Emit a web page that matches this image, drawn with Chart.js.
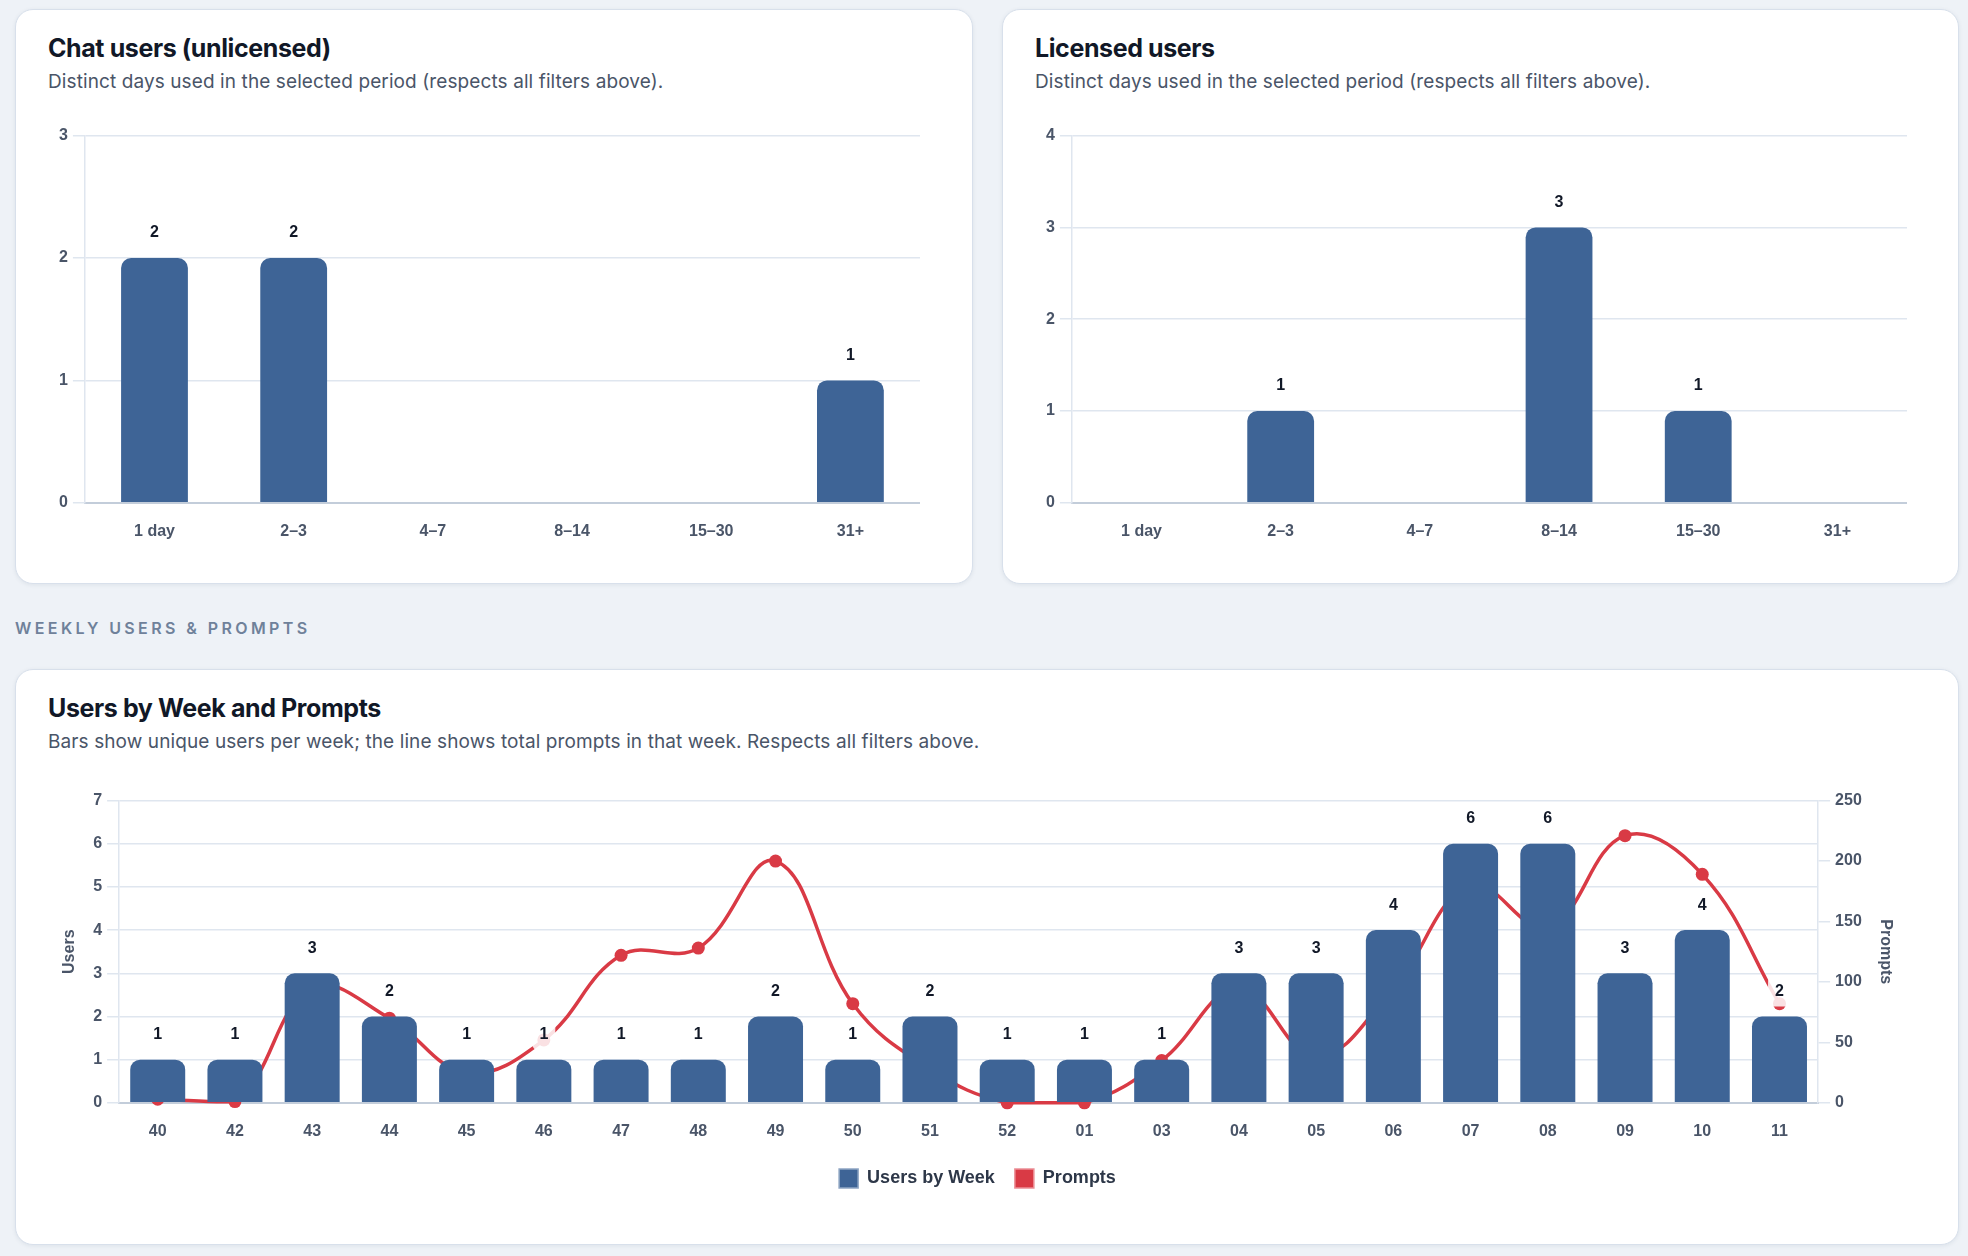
<!DOCTYPE html>
<html>
<head>
<meta charset="utf-8">
<title>Usage</title>
<script src="https://cdn.jsdelivr.net/npm/chart.js@4.4.1/dist/chart.umd.min.js"></script>
<style>
  html, body { margin: 0; padding: 0; }
  body {
    width: 1968px; height: 1256px; overflow: hidden; position: relative;
    background: #eef2f7;
    font-family: Inter, "Noto Sans", sans-serif;
  }
  .card {
    position: absolute; box-sizing: border-box;
    background: #fff; border: 1px solid #d8e0eb; border-radius: 18px;
    box-shadow: 0 1px 4px rgba(30, 50, 80, 0.08);
  }
  .card h2 {
    position: absolute; left: 32px; top: 22px; margin: 0;
    font-size: 25px; line-height: 32px; font-weight: 700; color: #111827;
    letter-spacing: -0.4px;
  }
  .card p {
    position: absolute; left: 32px; top: 59px; margin: 0;
    font-size: 19px; line-height: 26px; color: #4a5568; letter-spacing: 0.1px;
  }
  .chart-box { position: absolute; }
  .section {
    position: absolute; left: 15px; top: 618px;
    font-size: 16px; line-height: 20px; letter-spacing: 3.4px;
    font-weight: 600; color: #6f819a;
  }
</style>
</head>
<body>

<div class="card" style="left:15px; top:9px; width:958px; height:575px;">
  <h2>Chat users (unlicensed)</h2>
  <p>Distinct days used in the selected period (respects all filters above).</p>
  <div class="chart-box" style="left:32px; top:111px; width:872px; height:439px;">
    <canvas id="chatChart"></canvas>
  </div>
</div>

<div class="card" style="left:1002px; top:9px; width:957px; height:575px;">
  <h2>Licensed users</h2>
  <p>Distinct days used in the selected period (respects all filters above).</p>
  <div class="chart-box" style="left:32px; top:111px; width:872px; height:439px;">
    <canvas id="licensedChart"></canvas>
  </div>
</div>

<div class="section">WEEKLY USERS &amp; PROMPTS</div>

<div class="card" style="left:15px; top:669px; width:1944px; height:576px;">
  <h2>Users by Week and Prompts</h2>
  <p>Bars show unique users per week; the line shows total prompts in that week. Respects all filters above.</p>
  <div class="chart-box" style="left:32px; top:116px; width:1878px; height:412px;">
    <canvas id="weeklyChart"></canvas>
  </div>
</div>

<script>
  const dayBuckets = ['1 day', '2–3', '4–7', '8–14', '15–30', '31+'];
  const chatUsers = [2, 2, 0, 0, 0, 1];
  const licensedUsers = [0, 1, 0, 3, 1, 0];

  const weeks = ['40', '42', '43', '44', '45', '46', '47', '48', '49', '50', '51',
                 '52', '01', '03', '04', '05', '06', '07', '08', '09', '10', '11'];
  const usersByWeek = [1, 1, 3, 2, 1, 1, 1, 1, 2, 1, 2, 1, 1, 1, 3, 3, 4, 6, 6, 3, 4, 2];
  const promptsByWeek = [3, 1, 95, 70, 25, 52, 122, 128, 200, 82, 28, 0, 0, 35, 95, 38, 95, 180, 145, 221, 189, 82];

  const barBlue = '#3e6496';
  const lineRed = '#d93a45';
  const gridColor = '#dfe6ef';
  const axisDark = '#c3cdda';
  const tickColor = '#4a5568';

  Chart.defaults.font.family = '"Liberation Sans", Arial, Helvetica, sans-serif';

  // numbers above the bars, on a soft white chip
  const valueLabels = {
    id: 'valueLabels',
    afterDatasetsDraw(chart) {
      const ctx = chart.ctx;
      chart.data.datasets.forEach((ds, i) => {
        const meta = chart.getDatasetMeta(i);
        if (meta.type !== 'bar') return;
        meta.data.forEach((bar, j) => {
          const v = ds.data[j];
          if (!v) return;
          const text = String(v);
          ctx.save();
          ctx.font = 'bold 16px "Liberation Sans", Arial, sans-serif';
          const w = ctx.measureText(text).width;
          const x = bar.x, y = bar.y - 25;
          ctx.fillStyle = 'rgba(255,255,255,0.85)';
          ctx.beginPath();
          ctx.roundRect(x - w / 2 - 7, y - 15, w + 14, 30, 5);
          ctx.fill();
          ctx.fillStyle = '#111827';
          ctx.textAlign = 'center';
          ctx.textBaseline = 'middle';
          ctx.fillText(text, x, y);
          ctx.restore();
        });
      });
    }
  };

  function dayChart(id, values) {
    new Chart(document.getElementById(id), {
      type: 'bar',
      data: {
        labels: dayBuckets,
        datasets: [{
          label: 'Users',
          data: values,
          backgroundColor: barBlue,
          borderRadius: 10,
          borderSkipped: 'start',
          barPercentage: 0.6,
          categoryPercentage: 0.8
        }]
      },
      options: {
        responsive: true,
        maintainAspectRatio: false,
        animation: false,
        layout: { padding: { left: 6 } },
        plugins: { legend: { display: false }, tooltip: { enabled: false } },
        scales: {
          x: {
            grid: { display: false, drawTicks: false },
            border: { color: axisDark, width: 2 },
            ticks: { padding: 19, color: tickColor, font: { size: 16, weight: 'bold' } }
          },
          y: {
            min: 0,
            max: Math.max(...values) + 1,
            ticks: { stepSize: 1, padding: 5, color: tickColor, font: { size: 16, weight: 'bold' } },
            grid: { color: gridColor, lineWidth: 1.5, tickLength: 12 },
            border: { color: gridColor, width: 1.5 }
          }
        }
      },
      plugins: [valueLabels]
    });
  }

  dayChart('chatChart', chatUsers);
  dayChart('licensedChart', licensedUsers);

  // Chart: weekly users (bars) + prompts (line)
  new Chart(document.getElementById('weeklyChart'), {
    type: 'bar',
    data: {
      labels: weeks,
      datasets: [{
        label: 'Users by Week',
        data: usersByWeek,
        backgroundColor: barBlue,
        borderColor: '#8ea5c3',
        borderWidth: 0,
        borderRadius: 10,
        borderSkipped: 'start',
        barPercentage: 0.89,
        categoryPercentage: 0.8,
        yAxisID: 'y',
        order: 1
      }, {
        type: 'line',
        label: 'Prompts',
        data: promptsByWeek,
        borderColor: lineRed,
        backgroundColor: lineRed,
        borderWidth: 3.5,
        tension: 0.4,
        pointRadius: 6.5,
        pointBackgroundColor: lineRed,
        pointBorderWidth: 0,
        clip: 10,
        yAxisID: 'y1',
        order: 2
      }]
    },
    options: {
      responsive: true,
      maintainAspectRatio: false,
      animation: false,
      layout: { padding: { left: 8, right: 27 } },
      plugins: {
        tooltip: { enabled: false },
        legend: {
          position: 'bottom',
          labels: {
            boxWidth: 19,
            boxHeight: 19,
            padding: 20,
            color: '#2d3748',
            font: { size: 18, weight: 'bold' },
            generateLabels(chart) {
              const items = Chart.defaults.plugins.legend.labels.generateLabels(chart);
              items.forEach((it, k) => {
                it.lineWidth = 1.5;
                it.strokeStyle = k === 0 ? '#8ea5c3' : '#ec8f96';
              });
              return items;
            }
          }
        }
      },
      scales: {
        x: {
          grid: { display: false, drawTicks: false },
          border: { color: axisDark, width: 2 },
          ticks: { padding: 19, color: tickColor, font: { size: 16, weight: 'bold' } },
          afterFit(axis) { axis.height -= 11; }
        },
        y: {
          position: 'left',
          min: 0,
          max: Math.max(...usersByWeek) + 1,
          ticks: { stepSize: 1, padding: 5, color: tickColor, font: { size: 16, weight: 'bold' } },
          grid: { color: gridColor, lineWidth: 1.5, tickLength: 12 },
          border: { color: gridColor, width: 1.5 },
          title: {
            display: true, text: 'Users', color: tickColor,
            font: { size: 16, weight: 'bold' },
            padding: { top: 4, bottom: 9 }
          }
        },
        y1: {
          position: 'right',
          min: 0,
          max: Math.ceil(Math.max(...promptsByWeek) / 50) * 50,
          ticks: { stepSize: 50, padding: 5, color: tickColor, font: { size: 16, weight: 'bold' } },
          grid: { drawOnChartArea: false, color: gridColor, lineWidth: 1.5, tickLength: 12 },
          border: { color: gridColor, width: 1.5 },
          title: {
            display: true, text: 'Prompts', color: tickColor,
            font: { size: 16, weight: 'bold' },
            padding: { top: 4, bottom: 9 }
          }
        }
      }
    },
    plugins: [valueLabels]
  });
</script>
</body>
</html>
